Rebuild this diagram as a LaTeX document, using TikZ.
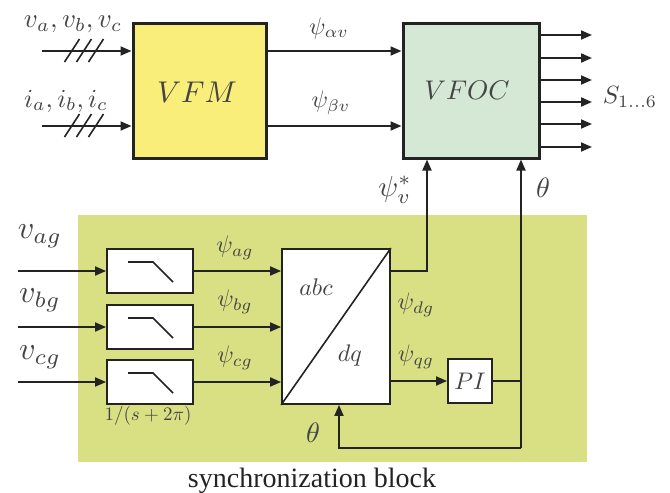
\documentclass[tikz,border=0pt]{standalone}
\usepackage{fontspec}
\newfontfamily\timesf{Liberation Serif}
\usetikzlibrary{arrows.meta,calc}
\definecolor{syncbg}{RGB}{217,224,132}
\definecolor{vfmfill}{RGB}{250,238,122}
\definecolor{vfocfill}{RGB}{213,232,214}
\definecolor{ink}{RGB}{35,35,35}
\begin{document}
\begin{tikzpicture}[x=1pt,y=-1pt,
  >={Triangle[length=11pt,width=9pt]},
  line/.style={draw=ink,line width=1.8pt},
  arr/.style={line,->},
  bigbox/.style={draw=ink,line width=3pt,inner sep=0pt},
  wbox/.style={draw=ink,line width=1.8pt,fill=white,inner sep=0pt},
  fs/.style={font=\fontsize{10}{12}\selectfont,scale=#1/10},
  lab/.style={text=ink!85!white,inner sep=0pt}
]
\useasboundingbox (0,0) rectangle (670,493);
% sync background
\fill[syncbg] (78,215) rectangle (587,462);
% main blocks
\node[bigbox,fill=vfmfill,minimum width=133pt,minimum height=135pt] (vfm) at (199.5,90.5) {};
\node[lab,fs=30] at (197,92) {$VFM$};
\node[bigbox,fill=vfocfill,minimum width=136pt,minimum height=135pt] (vfoc) at (471,90.5) {};
\node[lab,fs=27] at (467,90) {$VFOC$};
% inputs to VFM
\coordinate (vin) at (42,51);
\coordinate (iin) at (42,126);
\draw[arr] (vin) -- (vin -| vfm.west);
\draw[arr] (iin) -- (iin -| vfm.west);
\foreach \yy in {51,126}{
  \foreach \xx in {72,84,96}{
    \draw[line,line width=1.6pt] (\xx-7.5,\yy+11) -- (\xx+7.5,\yy-12);
  }
}
\node[lab,fs=27] (lv) at (73,24) {$v_a,v_b,v_c$};
\node[lab,fs=26] (li) at (66,101) {$i_a,i_b,i_c$};
% VFM -> VFOC
\draw[arr] (vfm.east |- vin) -- (vfoc.west |- vin);
\draw[arr] (vfm.east |- iin) -- (vfoc.west |- iin);
\node[lab,fs=24] at (329,28) {$\psi_{\alpha v}$};
\node[lab,fs=24] at (331,103) {$\psi_{\beta v}$};
% outputs
\foreach \yy [count=\k] in {35,58,80,102,124,147}{
  \coordinate (o\k) at (592,\yy);
  \draw[arr] (vfoc.east |- o\k) -- (o\k);
}
\node[lab,fs=25] at (630,97) {$S_{1\ldots6}$};
% filters
\foreach \yy/\nm in {271/fa,327/fb,382/fc}{
  \node[wbox,minimum width=86pt,minimum height=44pt] (\nm) at (150,\yy) {};
  \draw[ink,line width=1.6pt] ($(\nm.center)+(-22,-9)$) -- ($(\nm.center)+(3,-9)$) -- ($(\nm.center)+(23,11)$);
}
\foreach \nm in {fa,fb,fc}{
  \coordinate (s\nm) at (18,0 |- \nm.center);
  \draw[arr] (s\nm) -- (\nm.west);
}
\node[lab,fs=32] at (40,236) {$v_{ag}$};
\node[lab,fs=32] at (40,300) {$v_{bg}$};
\node[lab,fs=32] at (40,357) {$v_{cg}$};
\node[lab,fs=19] at (148,416) {$1/(s+2\pi)$};
% abc/dq block
\node[wbox,minimum width=108pt,minimum height=155pt] (abc) at (336,326.5) {};
\draw[ink,line width=1.6pt] (abc.south west) -- (abc.north east);
\node[lab,fs=24] at (316,287) {$abc$};
\node[lab,fs=24] at (350,355) {$dq$};
\foreach \nm in {fa,fb,fc}{
  \draw[arr] (\nm.east) -- (abc.west |- \nm.east);
}
\node[lab,fs=24] at (235,248) {$\psi_{ag}$};
\node[lab,fs=24] at (235,302) {$\psi_{bg}$};
\node[lab,fs=24] at (235,358) {$\psi_{cg}$};
% psi_v* path
\coordinate (pd) at (abc.east |- fa.east);
\coordinate (pv) at (427,0 |- pd);
\draw[line,->] (pd) -- (pv) -- (pv |- vfoc.south);
\node[lab,fs=29] at (395,190) {$\psi_v^*$};
\node[lab,fs=24] at (416,305) {$\psi_{dg}$};
\node[lab,fs=24] at (416,357) {$\psi_{qg}$};
% PI
\node[wbox,minimum width=44pt,minimum height=44pt] (pi) at (470,381) {};
\node[lab,fs=24] at (470,381) {$PI$};
\draw[arr] (abc.east |- pi.west) -- (pi.west);
\coordinate (tj) at (521,0 |- pi.east);
\coordinate (tb) at (521,448);
\coordinate (tl) at (339,448);
\draw[line] (pi.east) -- (tj);
\draw[arr] (tb) -- (tb |- vfoc.south);
\draw[arr] (tb) -- (tl) -- (tl |- abc.south);
\node[lab,fs=28] at (543,188) {$\theta$};
\node[lab,fs=28] at (313,433) {$\theta$};
% caption
\node[text=ink,inner sep=0pt,font=\timesf\fontsize{10}{12}\selectfont,scale=2.8] at (312,481) {synchronization block};
\end{tikzpicture}
\end{document}
